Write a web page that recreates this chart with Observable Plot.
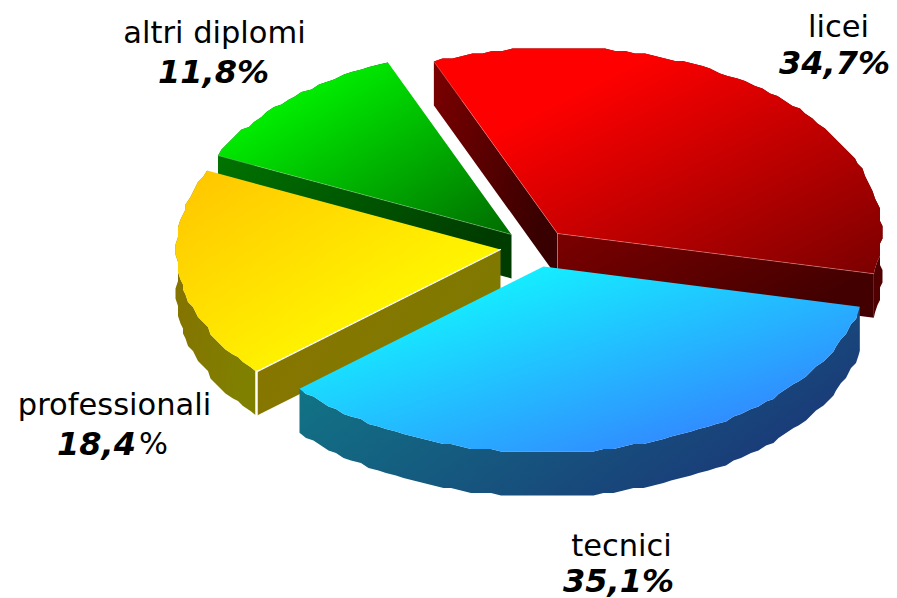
<!DOCTYPE html>
<html>
<head>
<meta charset="utf-8">
<style>html,body{margin:0;padding:0;background:#fff}svg{display:block}</style>
<script src="https://cdn.jsdelivr.net/npm/d3@7"></script>
<script src="https://cdn.jsdelivr.net/npm/@observablehq/plot@0.6"></script>
</head>
<body>
<div id="chart"></div>
<script>
// Data
const categories = ["tecnici", "professionali", "altri diplomi", "licei"];
const shares = [35.1, 18.4, 11.8, 34.7];

// Style and layout of the 3D pie
const width = 897, height = 598;
const radiusX = 324, radiusY = 186, depthPx = 44, startDeg = 12.5, step = 2.5;
const originX = 530, originY = 250;
const explode = {                       // pixel offset of each slice from the origin
  "tecnici": [13, 16], "professionali": [-30, -1], "altri diplomi": [-19, -16], "licei": [27, -17]
};
const drawOrder = ["altri diplomi", "licei", "professionali", "tecnici"];
const colors = {
  "licei":         {top: ["#ff0000", "#7a0000"], wall: ["#7c0000", "#380000"], rim: ["#700000", "#500000"], wall2: ["#7c0000", "#420000"]},
  "tecnici":       {top: ["#14f0ff", "#3a6cff"], wall: ["#0f8088", "#1a3a78"], rim: ["#0f8088", "#1a3a78"], wall2: ["#0f8088", "#1a3a78"]},
  "professionali": {top: ["#ffc400", "#fff600"], wall: ["#8a7400", "#7e7a00"], rim: ["#857000", "#808000"], wall2: ["#8a7600", "#807000"]},
  "altri diplomi": {top: ["#00ff00", "#006c00"], wall: ["#007400", "#003c00"], rim: ["#007400", "#003c00"], wall2: ["#007400", "#003c00"]}
};
const gradientStart = {"licei": 0.25, "tecnici": 0.2, "professionali": 0, "altri diplomi": 0.12};
const gradientEnd = {"licei": 1, "tecnici": 1, "professionali": 0.7, "altri diplomi": 1};
const visibleWalls = {"licei": ["wall", "wall2"], "tecnici": [], "professionali": ["wall"], "altri diplomi": ["wall"]};
const edgeColor = {"licei": "#ffb0b0", "professionali": "#ffffff", "altri diplomi": "#9fd09f"};
const edgeOpacity = {"licei": 0.4, "professionali": 0.95, "altri diplomi": 0.4};

// Labels, in picture pixels
const labelNames = ["licei", "altri diplomi", "professionali", "tecnici"];
const labelNameX = [838, 214, 114, 621];
const labelNameY = [27, 33, 405, 546];
const labelShares = ["34,7%", "11,8%", "18,4", "35,1%"];
const labelShareX = [834, 213, 96, 618];
const labelShareY = [63, 72, 444, 581];

// Geometry: pie units (1 = radius)
const ux = (px) => (px - originX) / radiusX;
const uy = (px) => (px - originY) / radiusY;
const depth = depthPx / radiusY;
const q = (v, r) => Math.round(v * r / step) * step / r;

let angle = startDeg;
const slices = categories.map((name, i) => {
  const a0 = angle, a1 = angle + shares[i] * 3.6;
  angle = a1;
  const [ex, ey] = explode[name];
  const cx = ex / radiusX, cy = ey / radiusY;
  const n = Math.round((a1 - a0) / 1.8);
  const arc = d3.range(n + 1).map((k) => {
    const t = (a0 + (a1 - a0) * k / n) * Math.PI / 180;
    const c = Math.cos(t), s = Math.sin(t);
    const isEnd = k === 0 || k === n;
    return {x: cx + (isEnd ? c : q(c, radiusX)), y: cy + (isEnd ? s : q(s, radiusY))};
  });
  return {name, apex: {x: cx, y: cy}, arc};
});
const down = (p) => ({x: p.x, y: p.y + depth});

const poly = (pts, fill) => Plot.line(pts, {x: "x", y: "y", fill, stroke: "none", curve: "linear"});
const edge = (pts, name) => Plot.line(pts, {x: "x", y: "y", stroke: edgeColor[name], strokeOpacity: edgeOpacity[name], strokeWidth: 1, curve: "linear"});
const id = (name, part) => `g-${categories.indexOf(name)}-${part}`;

const marks = [];
for (const name of drawOrder) {
  const s = slices.find((d) => d.name === name);
  const first = s.arc[0], last = s.arc[s.arc.length - 1];
  marks.push(poly([...s.arc, ...s.arc.map(down).reverse()], `url(#${id(name, "rim")})`));
  for (const part of visibleWalls[name]) {
    const end = part === "wall" ? first : last;
    marks.push(poly([s.apex, end, down(end), down(s.apex)], `url(#${id(name, part)})`));
  }
  marks.push(poly([s.apex, ...s.arc], `url(#${id(name, "top")})`));
  if (name === "licei") {
    marks.push(edge([first, s.apex, last], name));
    marks.push(edge([s.apex, down(s.apex)], name));
  }
  if (name === "altri diplomi") marks.push(edge([first, s.apex], name));
  if (name === "professionali") {
    marks.push(Plot.line([first, down(first)], {x: "x", y: "y", stroke: "#ffffff", strokeWidth: 2.5}));
    marks.push(Plot.line([s.apex, first], {x: "x", y: "y", stroke: "#ffffff", strokeWidth: 1.2}));
  }
}

const font = "DejaVu Sans, Verdana, sans-serif";
marks.push(Plot.text(labelNames, {
  x: (d, i) => ux(labelNameX[i]), y: (d, i) => uy(labelNameY[i]), text: (d) => d,
  fontFamily: font, fontSize: 30.5, fill: "#000", textAnchor: "middle", lineAnchor: "middle"
}));
marks.push(Plot.text(labelShares, {
  x: (d, i) => ux(labelShareX[i]), y: (d, i) => uy(labelShareY[i]), text: (d) => d,
  fontFamily: font, fontSize: 32, fontWeight: "bold", fontStyle: "italic", fill: "#000", textAnchor: "middle", lineAnchor: "middle"
}));
marks.push(Plot.text(["%"], {
  x: ux(153), y: uy(444), text: (d) => d,
  fontFamily: font, fontSize: 30.5, fill: "#000", textAnchor: "middle", lineAnchor: "middle"
}));

const plot = Plot.plot({
  width, height, margin: 0,
  x: {domain: [ux(0), ux(width)], range: [0, width], axis: null},
  y: {domain: [uy(0), uy(height)], range: [0, height], axis: null},
  style: {background: "#fff", overflow: "visible"},
  marks
});

// Gradients referenced by the fills above
const defs = d3.select(plot).insert("defs", ":first-child");
for (const name of categories) {
  for (const part of ["top", "wall", "wall2", "rim"]) {
    const g = defs.append("linearGradient").attr("id", id(name, part))
      .attr("x1", 0).attr("y1", 0).attr("x2", 1).attr("y2", part === "top" ? 1 : 0.5);
    g.append("stop").attr("offset", part === "top" ? gradientStart[name] : 0).attr("stop-color", colors[name][part][0]);
    g.append("stop").attr("offset", part === "top" ? gradientEnd[name] : 1).attr("stop-color", colors[name][part][1]);
  }
}
document.getElementById("chart").appendChild(plot);
</script>
</body>
</html>
